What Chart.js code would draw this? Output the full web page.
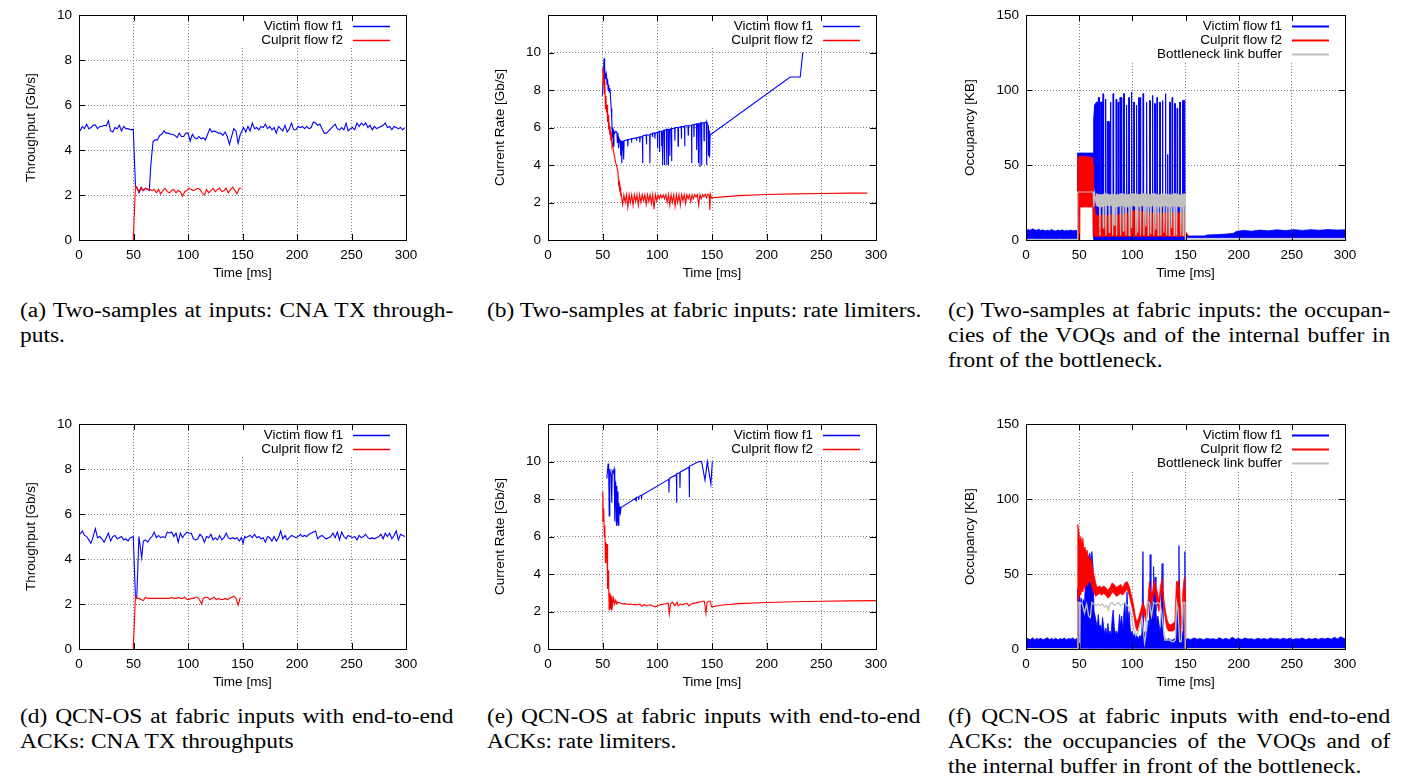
<!DOCTYPE html>
<html><head><meta charset="utf-8">
<script src="https://cdn.jsdelivr.net/npm/chart.js@4.4.1/dist/chart.umd.min.js"></script>
<style>
html,body{margin:0;padding:0;background:#fff;width:1405px;height:783px;overflow:hidden;position:relative}
canvas{position:absolute}
.cap{position:absolute;font-family:"Liberation Serif","Times New Roman",serif;font-size:21.3px;line-height:25px;color:#000;transform-origin:0 0;transform:scaleX(1.1);white-space:nowrap}
.cap .j{text-align:justify;text-align-last:justify}
</style></head><body>
<canvas id="ca"></canvas><canvas id="cb"></canvas><canvas id="cc"></canvas>
<canvas id="cd"></canvas><canvas id="ce"></canvas><canvas id="cf"></canvas>
<div class="cap" style="left:20px;top:298px;width:394px"><div class="j">(a) Two-samples at inputs: CNA TX through-</div><div>puts.</div></div>
<div class="cap" style="left:487px;top:298px;width:394px"><div>(b) Two-samples at fabric inputs: rate limiters.</div></div>
<div class="cap" style="left:948px;top:298px;width:402px"><div class="j">(c) Two-samples at fabric inputs: the occupan-</div><div class="j">cies of the VOQs and of the internal buffer in</div><div>front of the bottleneck.</div></div>
<div class="cap" style="left:20px;top:704px;width:394px"><div class="j">(d) QCN-OS at fabric inputs with end-to-end</div><div>ACKs: CNA TX throughputs</div></div>
<div class="cap" style="left:487px;top:704px;width:394px"><div class="j">(e) QCN-OS at fabric inputs with end-to-end</div><div>ACKs: rate limiters.</div></div>
<div class="cap" style="left:948px;top:704px;width:402px"><div class="j">(f) QCN-OS at fabric inputs with end-to-end</div><div class="j">ACKs: the occupancies of the VOQs and of</div><div>the internal buffer in front of the bottleneck.</div></div>
<script>
// ---------- tick labels ----------
const xTicks = [0,50,100,150,200,250,300];
const yTicksTput = [0,2,4,6,8,10];
const yTicksRate = [0,2,4,6,8,10];
const yTicksOcc = [0,50,100,150];
const labels = {victim:'Victim flow f1', culprit:'Culprit flow f2', buffer:'Bottleneck link buffer'};

// ---------- (a) throughput, two-samples ----------
const aVictim = [[1,4.85],[3,5.05],[5,4.95],[7,5.15],[9,4.95],[11,5.0],[13,5.1],[15,5.12],[17,4.95],[19,5.05],[21,5.05],[23,5.1],[25,5.08],[27,5.3],[29,4.85],[31,4.8],[33,5.0],[35,4.95],[37,5.1],[39,4.85],[41,5.05],[43,4.95],[45,4.95],[47,4.9],[49.8,4.92],[51.8,2.4],[53,2.35],[55,2.1],[57,2.3],[59,2.2],[61,2.3],[63,2.25],[64.5,2.2],[66,3.4],[68,4.4],[70,4.45],[72,4.45],[74,4.65],[76,4.7],[78,4.85],[80,4.75],[82,4.75],[84,4.7],[86,4.7],[88,4.65],[90,4.55],[92,4.75],[94,4.6],[96,4.6],[98,4.75],[100,4.75],[102,4.4],[104,4.7],[106,4.55],[108,4.5],[110,4.6],[112,4.5],[114,4.55],[116,4.45],[118,4.7],[120,4.95],[122,4.8],[124,4.85],[126,4.8],[128,4.75],[130,4.75],[132,4.65],[134,4.8],[136,4.6],[138,4.25],[140,4.6],[142,4.95],[144,4.85],[146,4.3],[148,4.7],[151,5.0],[153,4.8],[155,5.05],[157,4.85],[159,5.2],[161,4.95],[163,5.0],[165,4.9],[167,5.05],[169,5.0],[171,5.15],[173,4.95],[175,5.05],[177,4.9],[179,5.0],[181,4.75],[183,5.05],[185,4.95],[187,4.85],[189,5.1],[191,4.8],[193,4.95],[195,5.2],[197,4.9],[199,4.9],[201,5.05],[203,5.0],[205,5.05],[207,4.95],[209,5.05],[211,4.95],[213,5.0],[215,5.25],[217,5.2],[219,5.1],[221,5.15],[223,4.95],[225,4.75],[227,4.75],[229,4.85],[231,4.95],[233,5.05],[235,5.15],[237,4.95],[239,4.9],[241,5.0],[243,4.9],[245,5.2],[247,4.85],[249,4.95],[251,5.0],[253,4.9],[255,5.2],[257,5.05],[259,5.2],[261,5.1],[263,5.2],[265,5.0],[267,5.1],[269,4.9],[271,5.05],[273,4.95],[275,5.0],[277,5.05],[279,5.1],[281,5.2],[283,5.0],[285,5.05],[287,4.9],[289,5.05],[291,5.0],[293,4.95],[295,5.0],[297,4.9],[299,5.0]];
const aCulprit = [[49.8,0],[51.8,2.4],[53,2.3],[55,2.15],[57,2.35],[59,2.2],[61,2.3],[63,2.25],[65,2.25],[67,2.2],[69,2.25],[71,2.1],[73,2.25],[75,2.05],[77,2.2],[79,2.3],[81,2.15],[83,2.1],[85,2.2],[87,2.25],[89,2.1],[91,2.2],[93,2.15],[95,1.95],[97,2.15],[99,2.2],[101,2.3],[103,2.25],[105,2.2],[107,2.25],[109,2.3],[111,2.25],[113,2.1],[115,2.0],[117,2.25],[119,2.1],[121,2.2],[123,2.3],[125,2.15],[127,2.25],[129,2.3],[131,2.15],[133,2.2],[135,2.3],[137,2.1],[139,2.25],[141,2.35],[143,2.2],[145,2.05],[147,2.3],[149,2.3]];

// ---------- (b) rate limiters, two-samples ----------
const bVictim = [[49.8,7.7],[50.5,8.6],[51,9.3],[51.3,9.7],[51.8,8.5],[52.3,8.9],[53,8.6],[53.5,8.8],[54,8.3],[54.5,8.6],[55,8.0],[55.5,8.3],[56,7.9],[56.7,8.1],[57.3,7.5],[57.8,7.0],[58.3,6.5],[58.8,5.5],[59.3,6.0],[59.8,5.0],[60.3,5.8],[61,5.7],[62,5.8],[63,5.75],[63.5,5.2],[64,5.7],[64.5,4.9],[65,5.4],[65.5,5.3],[66,5.3],[66.6,4.5],[67,5.3],[67.5,4.1],[68,5.3],[68.4,4.8],[68.8,5.3],[69.2,4.3],[69.6,5.3],[72.8,5.35],[73,5.0],[73.3,5.35],[76.2,5.4],[76.4,5.2],[76.7,5.4],[80.8,5.45],[81,5.3],[81.3,5.45],[83.8,5.5],[84,5.2],[84.3,5.5],[86.3,5.5],[86.5,4.1],[86.8,5.55],[89.8,5.6],[90,5.1],[90.3,5.6],[93,5.6],[93.2,4.1],[93.5,5.65],[95.4,5.65],[95.6,5.5],[95.9,5.7],[97.6,5.7],[97.8,5.4],[98.1,5.7],[100,5.75],[100.2,4.9],[100.5,5.75],[101.8,5.8],[102,4.7],[102.3,5.8],[103.8,5.8],[104,5.0],[104.3,5.8],[104.8,5.8],[105,4.0],[105.3,5.85],[106.3,5.85],[106.5,4.0],[106.8,5.85],[108.3,5.9],[108.5,4.0],[108.8,5.9],[109.8,5.9],[110,4.0],[110.3,5.9],[111.2,5.9],[111.4,4.5],[111.7,5.9],[112.8,5.95],[113,4.2],[113.3,5.95],[115.8,5.95],[116,5.3],[116.3,6.0],[118.8,6.0],[119,5.0],[119.3,6.0],[121.8,6.05],[122,5.4],[122.3,6.05],[124.8,6.05],[125,5.0],[125.3,6.1],[128,6.1],[128.2,5.6],[128.5,6.1],[131.2,6.1],[131.4,4.1],[131.7,6.15],[133.3,6.15],[133.5,5.5],[133.8,6.15],[135.8,6.2],[136,4.8],[136.3,6.2],[137.3,6.2],[137.5,4.1],[137.8,6.2],[138.8,6.2],[139,3.9],[139.3,6.25],[140.3,6.25],[140.5,4.0],[140.8,6.25],[142.5,6.25],[142.7,5.3],[143,6.25],[144.8,6.3],[145,4.0],[145.3,6.3],[146.4,6.1],[146.6,4.5],[146.9,5.9],[147.6,5.8],[147.8,4.4],[148.2,5.6],[221.5,8.7],[230.7,8.7],[233,10.0]];
const bCulprit = [[50,9.2],[50.5,8.3],[51,8.9],[51.5,7.8],[52,8.5],[52.5,7.0],[53,7.7],[53.5,6.8],[54,7.2],[54.5,6.3],[55,6.7],[55.5,5.9],[56,6.1],[56.5,5.6],[57,5.8],[57.5,5.3],[58,5.5],[58.5,5.0],[59,5.1],[60,4.7],[61,4.4],[62,4.1],[63,3.9],[64,3.6],[64.5,3.0],[65,3.1],[65.5,2.7],[66,2.8],[66.5,2.4],[67,2.45],[68.2,1.9],[69.4,2.4],[70.6,2.0],[71.8,2.42],[73,1.75],[74.2,2.42],[75.4,2.0],[76.6,2.42],[77.8,1.85],[79,2.42],[80.2,2.05],[81.4,2.42],[82.6,1.85],[83.8,2.42],[85,2.0],[86.2,2.42],[87.4,2.1],[88.6,2.42],[89.8,1.9],[91,2.42],[92.2,2.05],[93.4,2.42],[94.6,1.95],[95.8,2.42],[97,1.65],[98.2,2.42],[99.4,2.1],[100.6,2.4],[101.8,2.2],[103,2.4],[104.2,2.25],[105.4,2.4],[106.6,2.2],[107.8,2.42],[109,2.0],[110.2,2.42],[111.4,1.85],[112.6,2.42],[113.8,2.0],[115,2.42],[116.2,1.8],[117.4,2.42],[118.6,2.0],[119.8,2.42],[121,1.85],[122.2,2.42],[123.4,2.1],[124.6,2.42],[125.8,1.95],[127,2.42],[128.2,2.2],[129.4,2.42],[130.6,2.05],[131.8,2.42],[133,2.2],[134.2,2.42],[135.4,2.3],[136.6,2.42],[137.8,1.85],[139,2.42],[140.2,2.2],[141.4,2.42],[142.6,2.3],[143.8,2.45],[145,2.25],[146.2,2.45],[147.4,2.4],[148,1.6],[148.5,2.45],[149.5,2.25],[160,2.3],[175,2.37],[200,2.43],[225,2.46],[250,2.48],[275,2.5],[292,2.5]];

// ---------- (c) occupancies, two-samples : [t, low, high] bands and lines ----------
const cVictimBand = [[0,1,6],[2,0.8,7],[4,1,6.5],[6,1.2,7.5],[8,0.8,6.8],[10,1,6.5],[12,1,7.2],[14,0.9,6.3],[16,1,6.8],[18,1.1,6],[20,0.9,6.5],[22,1,6.2],[24,1,7],[26,0.9,6.3],[28,1,6],[30,1,6.6],[32,1.1,6.2],[34,0.9,6.8],[36,1,6],[38,1,6.4],[40,0.9,6.2],[42,1,6.6],[44,1,6.1],[46,1,6.5],[48,1,6.3],[48.4,1,6],[48.5,54,58],[63.4,54,58],[63.8,0.5,24],[149.6,0.5,24],[149.9,1.5,2.7],[168,1.5,2.7],[170,1.5,3.3],[185,1.5,3.8],[195,1.5,4.4],[198,1.5,5.8],[205,1.5,6.4],[212,1.5,5.9],[220,1.5,6.6],[228,1.5,6.1],[236,1.5,6.8],[244,1.5,6.3],[252,1.5,6.9],[260,1.5,6.4],[268,1.5,6.9],[276,1.5,6.5],[284,1.5,7.0],[292,1.5,6.6],[300,1.5,6.8]];
const cVictimSpikes = [[63.5,3],[63.7,80],[64.5,90],[66.4,92],[67.2,92],[67.5,3],[67.8,3],[68,95],[68.8,95],[69.1,3],[70,3],[70.2,92],[71.5,92],[71.8,3],[72.3,3],[72.5,97.6],[72.9,97.6],[73.1,3],[74.4,3],[74.6,94],[75,94],[75.2,3],[76.2,3],[76.4,79],[78.1,79],[78.3,3],[79.1,3],[79.3,92],[79.7,92],[79.9,3],[81.6,3],[81.8,97.6],[82.2,97.6],[82.4,3],[84.6,3],[84.8,94],[85.2,94],[85.4,3],[86.3,3],[86.5,92],[86.9,92],[87.1,3],[88.1,3],[88.3,95],[89.8,95],[90,3],[91.6,3],[91.8,97.6],[92.2,97.6],[92.4,3],[94.2,3],[94.4,90],[94.8,90],[95,3],[96.4,3],[96.6,95],[97,95],[97.2,3],[98.9,3],[99.1,98.7],[99.5,98.7],[99.7,3],[101.1,3],[101.3,92],[101.7,92],[101.9,3],[103.6,3],[103.8,90],[104.2,90],[104.4,3],[105.8,3],[106,95],[106.4,95],[106.6,3],[107.3,3],[107.5,95],[107.9,95],[108.1,3],[109.8,3],[110,97.6],[110.4,97.6],[110.6,3],[113,3],[113.2,92],[113.6,92],[113.8,3],[116.1,3],[116.3,93],[116.7,93],[116.9,3],[118.6,3],[118.8,96.5],[119.2,96.5],[119.4,3],[120.8,3],[121,91],[121.4,91],[121.6,3],[123,3],[123.2,95],[123.6,95],[123.8,3],[125.5,3],[125.7,92],[126.1,92],[126.3,3],[128,3],[128.2,93],[128.6,93],[128.8,3],[130.8,3],[131,97.6],[131.4,97.6],[131.6,3],[132.8,3],[133,57],[133.3,57],[133.5,3],[134.9,3],[135.1,92],[135.5,92],[135.7,3],[137.1,3],[137.3,95],[137.7,95],[137.9,3],[139.6,3],[139.8,91],[140.2,91],[140.4,3],[141.8,3],[142,88],[142.4,88],[142.6,3],[144.3,3],[144.5,92],[144.9,92],[145.1,3],[147,3],[147.2,93],[149.4,93],[149.6,3]];
const cCulpritBand = [[48.4,0,0],[48.6,0,55],[50.6,0,56],[50.8,22,56],[62.8,22,55],[63.1,2.5,50],[63.6,2.5,30],[64.5,2.5,22],[65.5,2.5,17],[68,2.5,16],[72,2.5,17],[76,2.5,16],[80,2.5,17],[84,2.5,16],[88,2.5,17],[92,2.5,17.5],[96,2.5,18],[100,2.5,19.5],[104,2.5,20],[108,2.5,19],[112,2.5,18.5],[116,2.5,18],[120,2.5,18],[124,2.5,17.5],[128,2.5,18],[132,2.5,18],[136,2.5,18.5],[140,2.5,18],[144,2.5,18],[148,2.5,18.5],[149.6,2.5,18],[149.8,2.5,2.5],[150,2.5,6],[151.5,2.5,4],[152,2.5,2.5]];
const cBufferBand = [[65.5,23,31],[70,22,30],[75,23,31],[80,23,30],[85,22,30],[90,23,31],[95,22,30],[100,23,31],[105,22,30],[110,23,31],[115,22,30],[120,23,31],[125,22,30],[130,23,31],[135,22,30],[140,23,31],[145,22,30],[149.6,23,31]];
const cBuffer = [[0,0.3],[48.4,0.3],[48.6,32],[63.3,32],[63.7,22],[64.5,31],[65.5,26],[66.5,30],[69,29],[69.5,3],[70,30],[72.2,29],[72.7,8],[73.2,30],[74.7,29],[75.2,3],[75.7,30],[77.8,29],[78.3,5],[78.8,30],[81,29],[81.5,3],[82,30],[82.5,29],[83,10],[83.5,30],[84.7,29],[85.2,3],[85.7,30],[88.4,29],[88.9,3],[89.4,30],[91,29],[91.5,6],[92,30],[93.5,29],[94,3],[94.5,30],[96.6,29],[97.1,3],[97.6,30],[98.8,29],[99.3,8],[99.8,30],[102.9,29],[103.4,3],[103.9,30],[104.5,29],[105,5],[105.5,30],[107.2,29],[107.7,3],[108.2,30],[110.4,29],[110.9,3],[111.4,30],[112.2,29],[112.7,9],[113.2,30],[114.4,29],[114.9,3],[115.4,30],[116.9,29],[117.4,4],[117.9,30],[119.8,29],[120.3,3],[120.8,30],[121.6,29],[122.1,7],[122.6,30],[123.8,29],[124.3,3],[124.8,30],[126.4,29],[126.9,3],[127.4,30],[129.2,29],[129.7,5],[130.2,30],[131.7,29],[132.2,3],[132.7,30],[134.2,29],[134.7,3],[135.2,30],[136.4,29],[136.9,8],[137.4,30],[138.9,29],[139.4,3],[139.9,30],[141.1,29],[141.6,3],[142.1,30],[145.1,29],[145.6,3],[146.1,30],[147.3,29],[147.8,3],[148.3,30],[149.6,30],[149.9,0.3],[300,0.3]];

// ---------- (d) throughput, QCN-OS ----------
const dVictim = [[1,5.1],[3,5.25],[5,5.05],[7,5.0],[9,4.85],[11,4.7],[13,5.0],[15,5.35],[17,4.95],[19,5.0],[21,4.9],[23,4.75],[25,4.95],[27,5.15],[29,4.8],[31,5.0],[33,5.05],[35,4.9],[37,4.95],[39,5.0],[41,4.85],[43,4.9],[45,4.8],[47,4.95],[49.8,5.0],[51.8,2.3],[53,2.3],[55,5.0],[57.5,4.05],[59,4.8],[61,4.85],[63,4.75],[65,4.9],[67,5.0],[69,5.2],[71,4.95],[73,5.05],[75,4.95],[77,5.0],[79,4.95],[81,5.2],[83,5.15],[85,5.2],[87,5.0],[89,5.15],[91,4.75],[93,5.15],[95,4.95],[97,5.1],[99,5.2],[101,5.15],[103,5.15],[105,4.9],[107,4.85],[109,4.9],[111,5.1],[113,5.0],[115,4.75],[117,5.0],[119,4.95],[121,5.1],[123,4.85],[125,4.95],[127,4.85],[129,5.05],[131,4.85],[133,4.95],[135,5.15],[137,4.95],[139,4.9],[141,4.95],[143,4.9],[145,4.95],[147,4.8],[149,4.95],[150.5,4.7],[152,5.0],[153,4.95],[155,5.0],[157,5.05],[159,4.95],[161,5.1],[163,4.95],[165,5.0],[167,4.9],[169,4.95],[171,4.75],[173,5.0],[175,4.95],[177,4.8],[179,5.0],[181,4.8],[183,4.95],[185,5.25],[187,4.9],[189,5.05],[191,4.85],[193,4.95],[195,5.05],[197,5.0],[199,4.95],[201,5.0],[203,5.1],[205,5.0],[207,5.05],[209,5.0],[211,5.1],[213,5.15],[215,5.2],[217,5.25],[219,4.9],[221,5.0],[223,5.05],[225,4.95],[227,4.9],[229,4.95],[231,5.0],[233,5.15],[235,4.95],[237,5.2],[239,4.85],[241,5.2],[243,5.0],[245,4.9],[247,5.05],[249,5.0],[251,4.95],[253,5.0],[255,4.85],[257,5.05],[259,4.95],[261,5.0],[263,5.1],[265,4.95],[267,4.9],[269,4.95],[271,4.9],[273,4.95],[275,5.0],[277,5.1],[279,4.9],[281,5.15],[283,5.0],[285,5.15],[287,4.9],[289,5.05],[291,5.25],[293,4.85],[295,5.1],[297,5.05],[299,5.0]];
const dCulprit = [[49.8,0],[51.8,2.35],[53,2.25],[55,2.25],[57,2.2],[59,2.15],[61,2.3],[63,2.25],[65,2.25],[67,2.25],[69,2.25],[71,2.25],[73,2.25],[75,2.25],[77,2.25],[79,2.25],[81,2.25],[83,2.25],[85,2.3],[87,2.25],[89,2.25],[91,2.3],[93,2.25],[95,2.25],[97,2.3],[99,2.2],[101,2.2],[103,2.25],[105,2.25],[107,2.3],[109,2.3],[111,2.15],[112.5,2.0],[114,2.25],[116,2.3],[118,2.3],[120,2.2],[122,2.25],[124,2.3],[126,2.2],[128,2.25],[130,2.2],[132,2.2],[134,2.25],[136,2.2],[138,2.25],[140,2.3],[142,2.35],[144,2.25],[146,1.95],[148,2.3]];

// ---------- (e) rate limiters, QCN-OS ----------
const eVictim = [[53.8,9.1],[55,9.9],[55.5,9.6],[56,7.1],[56.5,9.6],[57,9.4],[57.7,9.3],[58.3,7.8],[58.8,9.5],[59.5,9.4],[60.5,9.6],[61.1,6.8],[61.6,8.9],[62,8.8],[62.6,6.6],[63,8.7],[63.5,6.8],[64,8.4],[64.3,6.6],[64.8,7.8],[65.3,7.2],[65.8,7.6],[66.3,7.3],[66.8,7.55],[80.3,8.05],[80.5,7.9],[80.8,8.1],[82.8,8.1],[83,7.95],[83.3,8.15],[85.3,8.2],[85.5,8.0],[85.8,8.2],[110.4,9.05],[110.6,8.35],[110.9,9.1],[117.4,9.3],[117.6,7.8],[117.9,9.35],[120.5,9.4],[120.7,8.6],[121,9.45],[129,9.7],[129.2,8.1],[129.5,9.75],[138,10.0],[140.5,10.0],[143.6,9.0],[145.7,10.0],[146.2,9.8],[149,8.8],[150.3,10.0]];
const eCulprit = [[49.8,6.8],[50.2,8.4],[50.6,6.8],[51,7.5],[51.5,6.0],[52,6.6],[52.5,4.6],[53,5.7],[53.5,4.8],[54,5.6],[54.5,3.2],[55,4.2],[55.5,3.3],[56,2.1],[56.5,3.0],[57,2.2],[57.5,2.9],[58,2.1],[58.5,2.8],[59,2.3],[60,2.7],[61,2.4],[62,2.6],[63,2.4],[64,2.5],[66,2.45],[68,2.4],[70,2.42],[72,2.4],[74,2.38],[76,2.4],[78,2.36],[80,2.38],[82,2.35],[84,2.4],[86,2.28],[88,2.38],[90,2.3],[92,2.35],[94,2.36],[96,2.28],[98,2.25],[100,2.3],[102,2.35],[104,2.38],[106,2.4],[108,2.42],[110,2.45],[111,1.88],[112,2.4],[114,2.5],[116,2.3],[118,2.5],[119,2.3],[121,2.4],[123,2.35],[125,2.4],[127,2.45],[129,2.3],[131,2.4],[133,2.45],[135,2.45],[137,2.5],[139,2.5],[141,2.55],[143,2.55],[144.5,1.9],[145.5,2.5],[147,2.55],[148.5,2.55],[149.5,2.25],[160,2.35],[175,2.42],[200,2.48],[225,2.52],[250,2.55],[275,2.57],[300,2.58]];

// ---------- (f) occupancies, QCN-OS ----------
const fVictimBand = [[0,0.5,6.5],[2,0.5,7],[4,0.5,6],[6,0.5,7.5],[8,0.5,6.2],[10,0.5,7],[12,0.5,6.5],[14,0.5,7.2],[16,0.5,6],[18,0.5,6.8],[20,0.5,7.5],[22,0.5,6.3],[24,0.5,7],[26,0.5,6.4],[28,0.5,7.2],[30,0.5,6.1],[32,0.5,6.9],[34,0.5,6.5],[36,0.5,7.3],[38,0.5,6.2],[40,0.5,7],[42,0.5,6.6],[44,0.5,7.4],[46,0.5,6.3],[48,0.5,7],[48.6,0.5,40],[50,0.5,40],[51,0.5,30],[52,0.5,34],[53,0.5,28],[54,0.5,33],[55,0.5,30],[56,0.5,45],[57,0.5,58],[58,0.5,52],[59,0.5,62],[60,0.5,64],[61,0.5,58],[62,0.5,65],[63,0.5,55],[63.5,0.5,40],[64,0.5,25],[65,0.5,22],[66,0.5,18],[67,0.5,15],[68,0.5,23],[69,0.5,14],[70,0.5,16],[71,0.5,12],[72,0.5,21],[73,0.5,15],[74,0.5,10],[75,0.5,14],[76,0.5,9],[77,0.5,17],[78,0.5,10],[79,0.5,12],[80,0.5,9],[81,0.5,20],[82,0.5,26],[83,0.5,15],[84,0.5,10],[85,0.5,12],[86,0.5,9],[87,0.5,14],[88,0.5,23],[89,0.5,16],[90,0.5,22],[91,0.5,12],[92,0.5,24],[93,0.5,31],[94,0.5,18],[95,0.5,38],[96,0.5,20],[97,0.5,25],[98,0.5,14],[99,0.5,10],[100,0.5,12],[101,0.5,8],[102,0.5,10],[103,0.5,7],[104,0.5,9],[105,0.5,8],[106,0.5,7],[107,0.5,9],[108,0.5,8],[109,0.5,10],[110,0.5,65],[110.6,0.5,12],[112,0.5,10],[113,0.5,12],[114,0.5,9],[115,0.5,19],[116,0.5,12],[116.8,0.5,63],[117.5,0.5,18],[118,0.5,25],[119,0.5,31],[119.5,0.5,20],[120,0.5,55],[120.7,0.5,30],[121.5,0.5,48],[122.2,0.5,25],[123,0.5,18],[124,0.5,22],[125,0.5,17],[126,0.5,12],[127,0.5,15],[128,0.5,57],[128.8,0.5,10],[130,0.5,8],[132,0.5,6],[134,0.5,7],[136,0.5,6],[138,0.5,6],[140,0.5,7],[141.5,0.5,10],[142.2,0.5,45],[143,0.5,20],[143.8,0.5,69],[144.5,0.5,20],[145.3,0.5,12],[146,0.5,10],[147,0.5,12],[148,0.5,10],[148.8,0.5,30],[149.4,0.5,65],[149.9,0.5,30],[150.1,0.5,6],[152,0.5,7],[155,0.5,6.2],[158,0.5,7.4],[161,0.5,6.5],[164,0.5,7],[167,0.5,6.1],[170,0.5,7.2],[173,0.5,6.6],[176,0.5,6.9],[179,0.5,6.3],[182,0.5,7.5],[185,0.5,6.4],[188,0.5,7.1],[191,0.5,6.2],[194,0.5,7.8],[197,0.5,6.5],[200,0.5,7],[203,0.5,6.3],[206,0.5,7.3],[209,0.5,6.6],[212,0.5,6.9],[215,0.5,6.2],[218,0.5,7.2],[221,0.5,6.5],[224,0.5,7],[227,0.5,6.3],[230,0.5,7.4],[233,0.5,6.6],[236,0.5,7],[239,0.5,6.4],[242,0.5,7.2],[245,0.5,6.5],[248,0.5,7.1],[251,0.5,6.3],[254,0.5,6.9],[257,0.5,6.6],[260,0.5,7.3],[263,0.5,6.2],[266,0.5,7],[269,0.5,6.5],[272,0.5,7.1],[275,0.5,6.4],[278,0.5,7.2],[281,0.5,6.6],[284,0.5,7.3],[287,0.5,6.5],[290,0.5,7.8],[293,0.5,6.7],[296,0.5,8.2],[299,0.5,7.0],[300,0.5,6.8]];
const fCulpritBand = [[48.5,0,0],[48.7,35,83],[49.5,33,80],[50.5,38,72],[51.5,36,75],[52.5,40,70],[53.5,38,74],[54.5,42,66],[55.5,40,68],[56.5,45,64],[57.5,42,66],[58.5,46,60],[59.5,44,62],[60.5,46,57],[61.5,42,60],[62.5,40,55],[63.5,38,50],[64.5,37,48],[65.5,35,44],[67,36,41],[69,37,42],[71,36,41],[73,37,42],[75,36,41],[77,34,39],[79,35,41],[81,38,44],[83,37,43],[85,35,41],[87,36,42],[89,37,43],[91,36,41],[93,38,44],[95,40,45],[97,36,42],[99,30,36],[101,24,30],[103,15,21],[104.5,12,18],[106,15,21],[108,20,26],[110,25,31],[111.5,22,28],[113,18,24],[114.5,24,30],[116,38,45],[117.5,30,37],[119,32,38],[120.5,40,46],[122,36,42],[123.5,30,38],[125,25,32],[126.5,35,42],[128,40,47],[129.5,28,34],[131,20,26],[132.5,14,20],[134,12,17],[136,12,16],[138,12,17],[140,13,18],[141.5,30,45],[142.5,25,44],[143.5,30,46],[144.5,22,40],[145.5,10,25],[146.5,10,16],[147.5,25,38],[148.5,35,46],[149.3,38,48],[149.6,0,40],[150,0,0]];
const fBuffer = [[0,0.3],[48.5,0.3],[48.8,31],[50.3,31],[50.6,1],[51,31],[53,30],[55,24],[57,30],[59,22],[60.5,21],[62,31],[64,30],[66,29],[68,30],[70,29],[72,30],[74,28],[76,29],[77.5,26],[79,30],[81,31],[83,29],[85,30],[87,31],[89,29],[91,30],[93,31],[95,29],[97,28],[99,22],[101,14],[103,10],[105,10],[107,16],[109,21],[110.5,12],[111.5,4],[112.5,8],[114,31],[116,31],[118,22],[120,31],[122,30],[124,31],[126,30],[127.5,25],[129,15],[130.5,6],[133,6],[135,6],[137,5],[139,5],[140.5,6],[141.6,31],[143,26],[144.5,5],[146,5],[147.5,31],[149.4,31],[149.8,0.3],[300,0.3]];

// ---------- styling / helpers ----------
const BLUE = '#0000ff', RED = '#ff0000', GRAY = '#c0c0c0';
const FONT = "'Liberation Sans', Arial, Helvetica, sans-serif";
const FS = 13.5;

function lineDs(pairs, color, extra) {
  return Object.assign({
    data: pairs.map(p => ({x: p[0], y: p[1]})),
    borderColor: color, backgroundColor: color, borderWidth: 1.1,
    pointRadius: 0, pointHoverRadius: 0, fill: false, tension: 0
  }, extra || {});
}
function bandDs(triples, color, order, label) {
  const hi = lineDs(triples.map(t => [t[0], t[2]]), color, {fill: '+1', order: order, borderWidth: 0.8});
  if (label) hi.legendLabel = label;
  const lo = lineDs(triples.map(t => [t[0], t[1]]), color, {order: order, borderWidth: 0.8});
  return [hi, lo];
}

const gnuFrame = {
  id: 'gnuKey',
  beforeDatasetsDraw(chart, args, opts) {
    const ctx = chart.ctx, a = chart.chartArea;
    const items = chart.data.datasets.filter(d => d.legendLabel);
    ctx.save();
    ctx.font = FS + 'px ' + FONT;
    const textRight = a.right - 63;
    const maxW = Math.max.apply(null, items.map(d => ctx.measureText(d.legendLabel).width));
    const boxLeft = textRight - maxW - 30;
    const boxBottom = a.top + 11.3 + 14 * (items.length - 1) + 7;
    ctx.fillStyle = '#fff';
    ctx.fillRect(boxLeft, a.top + 1, a.right - 1 - boxLeft, boxBottom - a.top - 1);
    items.forEach((d, i) => {
      const y = a.top + 11.3 + 14 * i;
      ctx.fillStyle = '#000'; ctx.textAlign = 'right'; ctx.textBaseline = 'middle';
      ctx.fillText(d.legendLabel, textRight, y);
      ctx.strokeStyle = d.borderColor; ctx.lineWidth = opts.lineWidth || 1.5;
      ctx.beginPath(); ctx.moveTo(a.right - 53, Math.round(y) + 0.5); ctx.lineTo(a.right - 16, Math.round(y) + 0.5); ctx.stroke();
    });
    ctx.restore();
  },
  afterDatasetsDraw(chart) {
    const ctx = chart.ctx, a = chart.chartArea, sx = chart.scales.x, sy = chart.scales.y;
    ctx.save();
    ctx.strokeStyle = '#000'; ctx.lineWidth = 1;
    ctx.beginPath();
    sx.ticks.forEach(t => {
      const x = Math.round(sx.getPixelForValue(t.value)) + 0.5;
      ctx.moveTo(x, a.bottom); ctx.lineTo(x, a.bottom - 6);
      ctx.moveTo(x, a.top); ctx.lineTo(x, a.top + 6);
    });
    sy.ticks.forEach(t => {
      const y = Math.round(sy.getPixelForValue(t.value)) + 0.5;
      ctx.moveTo(a.left, y); ctx.lineTo(a.left + 6, y);
      ctx.moveTo(a.right, y); ctx.lineTo(a.right - 6, y);
    });
    ctx.stroke();
    ctx.strokeRect(Math.round(a.left) + 0.5, Math.round(a.top) + 0.5, Math.round(a.right - a.left), Math.round(a.bottom - a.top));
    ctx.restore();
  }
};

function makeChart(id, pos, yMax, yTicks, yTitle, datasets, legendLW) {
  const cv = document.getElementById(id);
  cv.width = pos.w; cv.height = pos.h;
  cv.style.left = pos.l + 'px'; cv.style.top = pos.t + 'px';
  cv.style.width = pos.w + 'px'; cv.style.height = pos.h + 'px';
  const tickFont = {family: FONT, size: FS};
  const gridCommon = {color: '#7a7a7a', lineWidth: 1, drawTicks: false};
  new Chart(cv, {
    type: 'line',
    data: {datasets: datasets},
    options: {
      responsive: false, animation: false, devicePixelRatio: 1,
      events: [],
      layout: {padding: {left: pos.pl, right: pos.pr, top: 12, bottom: 9}},
      plugins: {legend: {display: false}, tooltip: {enabled: false}, gnuKey: {lineWidth: legendLW}},
      scales: {
        x: {
          type: 'linear', min: 0, max: 300,
          afterBuildTicks: s => { s.ticks = xTicks.map(v => ({value: v})); },
          afterFit: s => { s.height = 41; },
          grid: gridCommon, border: {display: false, dash: [1, 2]},
          ticks: {color: '#000', font: tickFont, padding: 7, maxRotation: 0, autoSkip: false},
          title: {display: true, text: 'Time [ms]', color: '#000', font: {family: FONT, size: FS, lineHeight: 1.2}, padding: 0}
        },
        y: {
          type: 'linear', min: 0, max: yMax,
          afterBuildTicks: s => { s.ticks = yTicks.map(v => ({value: v})); },
          afterFit: s => { s.width = pos.yw; },
          grid: gridCommon, border: {display: false, dash: [1, 2]},
          ticks: {color: '#000', font: tickFont, padding: 7, autoSkip: false},
          title: {display: true, text: yTitle, color: '#000', font: {family: FONT, size: FS, lineHeight: 1.2}, padding: 0}
        }
      }
    },
    plugins: [gnuFrame]
  });
}

const colA = {l: 0, w: 440, pl: 23, yw: 56, pr: 34};
const colB = {l: 460, w: 440, pl: 32, yw: 56, pr: 24};
const colC = {l: 930, w: 450, pl: 32, yw: 64, pr: 35};
function at(col, top) { return Object.assign({t: top, h: 290}, col); }

makeChart('ca', at(colA, 0), 10, yTicksTput, 'Throughput [Gb/s]', [
  lineDs(aVictim, BLUE, {legendLabel: labels.victim, order: 2}),
  lineDs(aCulprit, RED, {legendLabel: labels.culprit, order: 1})
], 1.5);
makeChart('cb', at(colB, 0), 12, yTicksRate, 'Current Rate [Gb/s]', [
  lineDs(bVictim, BLUE, {legendLabel: labels.victim, order: 2}),
  lineDs(bCulprit, RED, {legendLabel: labels.culprit, order: 1})
], 1.5);
makeChart('cc', at(colC, 0), 150, yTicksOcc, 'Occupancy [KB]', [].concat(
  bandDs(cVictimBand, BLUE, 3, labels.victim),
  [lineDs(cVictimSpikes, BLUE, {fill: 'origin', order: 3, borderWidth: 1})],
  bandDs(cCulpritBand, RED, 2, labels.culprit),
  bandDs(cBufferBand, GRAY, 1),
  [lineDs(cBuffer, GRAY, {legendLabel: labels.buffer, order: 1, borderWidth: 1.2})]
), 2);
makeChart('cd', at(colA, 409), 10, yTicksTput, 'Throughput [Gb/s]', [
  lineDs(dVictim, BLUE, {legendLabel: labels.victim, order: 2}),
  lineDs(dCulprit, RED, {legendLabel: labels.culprit, order: 1})
], 1.5);
makeChart('ce', at(colB, 409), 12, yTicksRate, 'Current Rate [Gb/s]', [
  lineDs(eVictim, BLUE, {legendLabel: labels.victim, order: 2}),
  lineDs(eCulprit, RED, {legendLabel: labels.culprit, order: 1})
], 1.5);
makeChart('cf', at(colC, 409), 150, yTicksOcc, 'Occupancy [KB]', [].concat(
  bandDs(fVictimBand, BLUE, 3, labels.victim),
  bandDs(fCulpritBand, RED, 2, labels.culprit),
  [lineDs(fBuffer, GRAY, {legendLabel: labels.buffer, order: 1, borderWidth: 1.3})]
), 2);
</script>
</body></html>
